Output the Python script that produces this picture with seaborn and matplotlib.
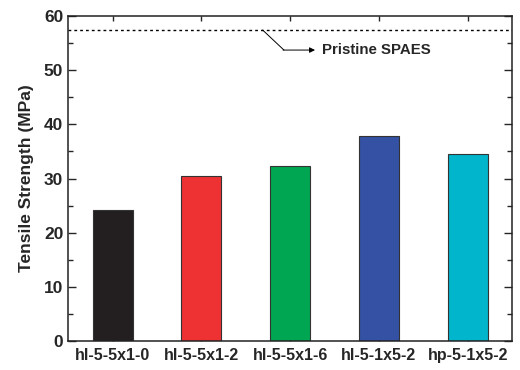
import matplotlib
matplotlib.use("Agg")
import matplotlib.pyplot as plt
import seaborn as sns
import pandas as pd
from matplotlib.ticker import MultipleLocator

samples = ["hl-5-5x1-0", "hl-5-5x1-2", "hl-5-5x1-6", "hl-5-1x5-2", "hp-5-1x5-2"]
strength = [24.2, 30.4, 32.3, 37.8, 34.6]
bar_colors = ["#231F20", "#EE3234", "#00A651", "#3451A3", "#00B5CC"]
pristine = 57.4

sns.set_style("ticks")
plt.rcParams["font.family"] = ["Liberation Sans", "DejaVu Sans"]
plt.rcParams["font.weight"] = "bold"

df = pd.DataFrame({"sample": samples, "strength": strength})

fig = plt.figure(figsize=(5.2, 3.7), dpi=100)
ax = fig.add_axes([0.131, 0.078, 0.854, 0.879])

sns.barplot(data=df, x="sample", y="strength", hue="sample",
            palette=bar_colors, saturation=1, width=0.45, edgecolor="#333333",
            linewidth=0.8, legend=False, ax=ax)

ax.axhline(pristine, color="black", lw=1.0, ls=(0, (2, 2.2)))
ax.plot([1.69, 1.93], [pristine, 53.7], color="black", lw=0.7)
ax.annotate("", xy=(2.28, 53.7), xytext=(1.92, 53.7),
            arrowprops=dict(arrowstyle="-|>", color="black", lw=0.7,
                            mutation_scale=8, shrinkA=0, shrinkB=0))
ax.text(2.36, 53.7, "Pristine SPAES", fontsize=10.8, fontweight="bold",
        va="center", ha="left")

ax.set_xlim(-0.5, 4.5)
ax.set_ylim(0, 60)
ax.yaxis.set_major_locator(MultipleLocator(10))
ax.yaxis.set_minor_locator(MultipleLocator(5))
ax.set_xlabel("")
ax.set_ylabel("Tensile Strength (MPa)", fontsize=12.5, fontweight="bold", labelpad=7)

for s in ax.spines.values():
    s.set_visible(True)
    s.set_linewidth(1.1)
    s.set_color("#222222")

ax.tick_params(axis="y", which="both", direction="in", right=True,
               labelsize=12.5, width=1)
ax.tick_params(axis="y", which="major", length=6)
ax.tick_params(axis="y", which="minor", length=3.5)
ax.tick_params(axis="x", which="both", direction="in", top=True,
               labelsize=11.5, length=3.5, width=1, pad=5)
for lab in ax.get_xticklabels() + ax.get_yticklabels():
    lab.set_fontweight("bold")

fig.savefig("out.png", dpi=100)
